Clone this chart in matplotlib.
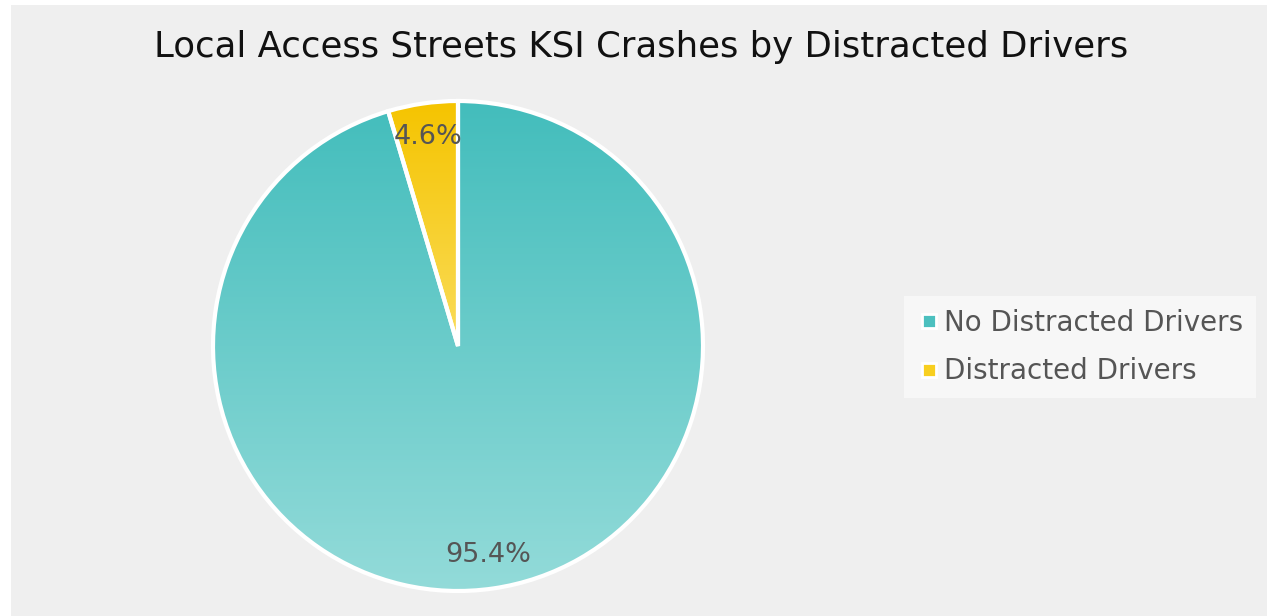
import numpy as np
import matplotlib
matplotlib.use('Agg')
from matplotlib import pyplot as plt
from matplotlib.colors import LinearSegmentedColormap
from matplotlib.patches import Rectangle

# data
categories = ['No Distracted Drivers', 'Distracted Drivers']
shares = [95.4, 4.6]
title = 'Local Access Streets KSI Crashes by Distracted Drivers'

# colours: top / bottom of vertical gradient for each slice
grad_top = ['#43bdbc', '#f5c400']
grad_bottom = ['#93dbd9', '#fff4b4']
legend_colors = ['#4cc0bf', '#f8cf20']

plt.rcParams['font.family'] = ['DejaVu Sans']

W, H = 1267, 616
fig = plt.figure(figsize=(W / 100, H / 100), dpi=100, facecolor='white')

# grey panel with thin white margin on top / left
fig.patches.append(Rectangle((11 / W, 0), 1 - 11 / W, 1 - 5 / H, transform=fig.transFigure,
                             facecolor='#efefef', edgecolor='none', zorder=-1))

fig.text(641 / W, 1 - 47 / H, title, ha='center', va='center', fontsize=25.6, color='#111111')

cx, cy, r = 458, 346, 245
ax = fig.add_axes([(cx - r) / W, (H - cy - r) / H, 2 * r / W, 2 * r / H])
ax.set_zorder(2)

wedges, texts, autotexts = ax.pie(shares, startangle=90, counterclock=False, radius=1,
                                  autopct='%1.1f%%', pctdistance=0.86,
                                  wedgeprops=dict(edgecolor='white', linewidth=3),
                                  textprops=dict(fontsize=19.5, color='#555555'))
ax.set_xlim(-1, 1)
ax.set_ylim(-1, 1)
ax.axis('off')

grad = np.linspace(0, 1, 256).reshape(-1, 1)
for w, c0, c1 in zip(wedges, grad_top, grad_bottom):
    w.set_facecolor('none')
    w.set_clip_on(False)
    cmap = LinearSegmentedColormap.from_list('g', [c0, c1])
    im = ax.imshow(grad, cmap=cmap, extent=[-1, 1, -1, 1], origin='upper',
                   aspect='auto', zorder=0.5)
    im.set_clip_path(w)
    w.set_zorder(1)
for t in autotexts:
    t.set_zorder(3)

# legend
handles = [plt.Line2D([], [], marker='s', linestyle='none', markersize=10,
                      markerfacecolor=c, markeredgecolor='white', markeredgewidth=2)
           for c in legend_colors]
leg = fig.legend(handles, categories, loc='upper left', bbox_to_anchor=(904 / W, 1 - 296 / H),
                 frameon=True, fontsize=20, labelcolor='#555555', handletextpad=0.1,
                 handlelength=0.9, borderpad=0.45, borderaxespad=0, labelspacing=0.75,
                 fancybox=False)
leg.get_frame().set_facecolor('#f7f7f7')
leg.get_frame().set_edgecolor('none')
leg.get_frame().set_alpha(1)

fig.savefig('out.png', dpi=100, facecolor='white')
